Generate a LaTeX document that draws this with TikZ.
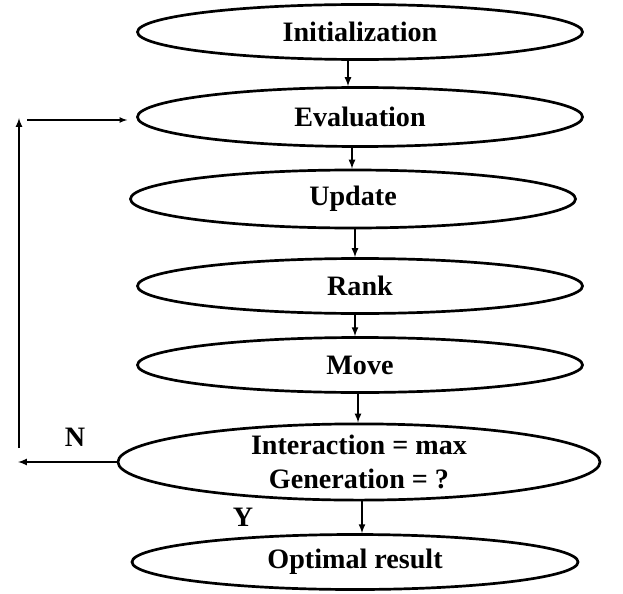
\documentclass[tikz,border=0pt]{standalone}
\usepackage{fontspec}
\setmainfont{Liberation Serif}
\usepackage{tikz}
\usetikzlibrary{shapes.geometric}

\tikzset{
  stage/.style = {ellipse, draw, line width=2.3pt, inner sep=0pt,
    minimum width=13.35cm, minimum height=1.65cm,
    font=\bfseries\fontsize{24}{29}\selectfont, align=center},
  flow/.style = {-latex, line width=1.6pt},
}

\begin{document}
\begin{tikzpicture}[x=0.03cm, y=-0.03cm]
  \useasboundingbox (0,0) rectangle (623,593);
  \node[stage] (init) at (360,32) {Initialization};
  \node[stage, minimum height=1.77cm] (eval) at (360,117) {Evaluation};
  \node[stage, minimum height=1.74cm] (update) at (353,199) {Update};
  \node[stage] (rank) at (360,286) {Rank};
  \node[stage] (move) at (360,365) {Move};
  \node[stage, minimum width=14.46cm, minimum height=2.25cm] (check) at (359,462)
    {Interaction = max\\Generation = ?};
  \node[stage, minimum width=13.38cm] (result) at (355,562) {Optimal result};

  \draw[flow] (init.south -| 348,0) -- (eval.north -| 348,0);
  \draw[flow] (eval.south -| 352,0) -- (update.north -| 352,0);
  \draw[flow] (update.south -| 355,0) -- (rank.north -| 355,0);
  \draw[flow] (rank.south -| 355,0) -- (move.north -| 355,0);
  \draw[flow] (move.south -| 358,0) -- (check.north -| 358,0);
  \draw[flow] (check.south -| 362,0) -- (result.north -| 362,0);

  % loop back
  \coordinate (nend) at (18,462);
  \coordinate (loopbot) at (19,448);
  \coordinate (looptop) at (19,118);
  \coordinate (backstart) at (27,120);
  \draw[flow] (check.west) -- (nend);
  \draw[flow] (loopbot) -- (looptop);
  \draw[-latex, line width=1.2pt] (backstart) -- ([xshift=-0.27cm]eval.west |- backstart);

  \node[font=\bfseries\fontsize{24}{29}\selectfont] (no) at (75,437) {N};
  \node[font=\bfseries\fontsize{24}{29}\selectfont] (yes) at (243,517) {Y};
\end{tikzpicture}
\end{document}
